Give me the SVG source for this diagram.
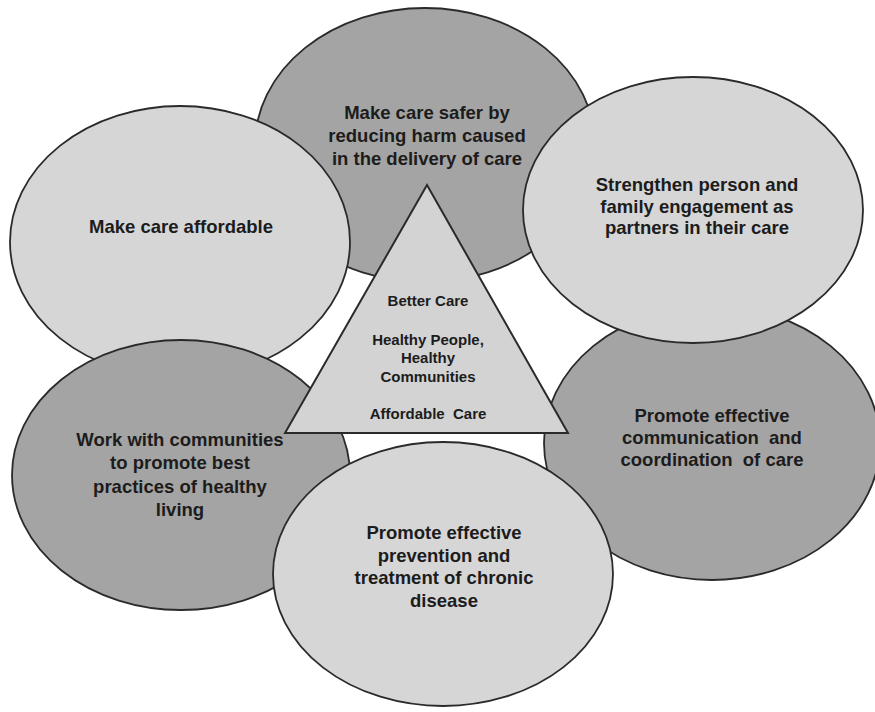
<svg xmlns="http://www.w3.org/2000/svg" width="875" height="712" viewBox="0 0 875 712">
<style>
.dark{fill:#a4a4a4;stroke:#2a2a2a;stroke-width:1.8}
.light{fill:#d6d6d6;stroke:#2a2a2a;stroke-width:1.8}
.tri{fill:#d3d3d3;stroke:#2a2a2a;stroke-width:2}
text{font-family:"Liberation Sans",Arial,sans-serif;font-weight:bold;fill:#1c1c1c;text-anchor:middle;white-space:pre}
.t{font-size:18.5px}
.s{font-size:15px}
</style>
<rect width="875" height="712" fill="#ffffff"/>
<g id="safer">
<ellipse class="dark" cx="425" cy="145" rx="170" ry="137"/>
<text class="t" x="427" y="119">Make care safer by</text>
<text class="t" x="427" y="142">reducing harm caused</text>
<text class="t" x="427" y="165">in the delivery of care</text>
</g>
<g id="communication">
<ellipse class="dark" cx="712" cy="443" rx="168" ry="137"/>
<text class="t" x="712" y="422">Promote effective</text>
<text class="t" x="712" y="444">communication  and</text>
<text class="t" x="712" y="466">coordination  of care</text>
</g>
<g id="engagement">
<ellipse class="light" cx="693" cy="210" rx="170" ry="133"/>
<text class="t" x="697" y="191">Strengthen person and</text>
<text class="t" x="697" y="213">family engagement as</text>
<text class="t" x="697" y="234">partners in their care</text>
</g>
<g id="affordable">
<ellipse class="light" cx="180" cy="242" rx="170" ry="136"/>
<text class="t" x="181" y="233">Make care affordable</text>
</g>
<g id="communities">
<ellipse class="dark" cx="181" cy="475" rx="169" ry="135"/>
<text class="t" x="180" y="446">Work with communities</text>
<text class="t" x="180" y="469">to promote best</text>
<text class="t" x="180" y="493">practices of healthy</text>
<text class="t" x="180" y="516">living</text>
</g>
<g id="chronic">
<ellipse class="light" cx="443" cy="574" rx="170" ry="132"/>
<text class="t" x="444" y="539">Promote effective</text>
<text class="t" x="444" y="562">prevention and</text>
<text class="t" x="444" y="584">treatment of chronic</text>
<text class="t" x="444" y="607">disease</text>
</g>
<g id="triangle">
<polygon class="tri" points="427,185 285,433 568,433"/>
<text class="s" x="428" y="306">Better Care</text>
<text class="s" x="428" y="345">Healthy People,</text>
<text class="s" x="428" y="363">Healthy</text>
<text class="s" x="428" y="382">Communities</text>
<text class="s" x="428" y="419">Affordable  Care</text>
</g>
<g id="connectors"></g>
</svg>
